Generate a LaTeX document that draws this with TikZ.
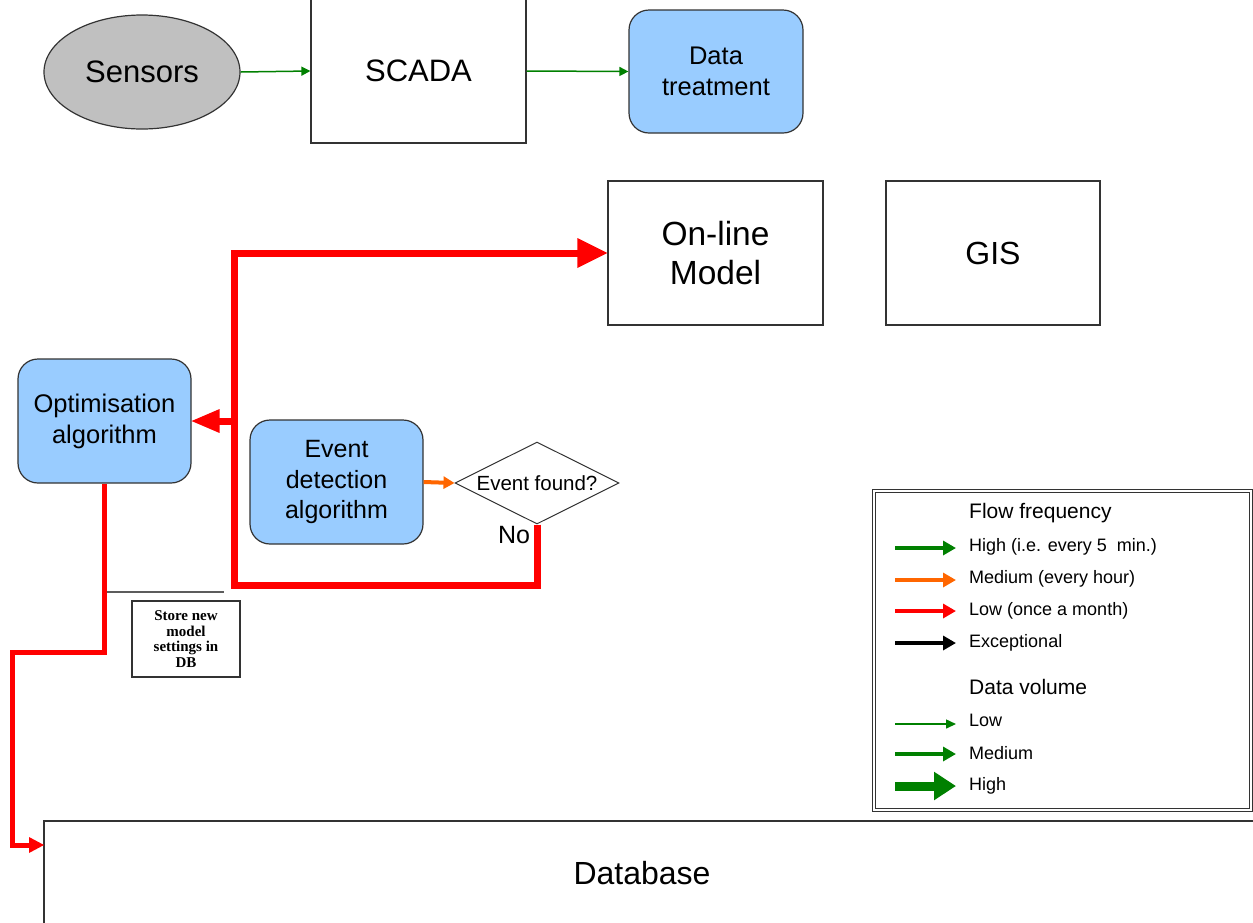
\documentclass[tikz,border=0pt]{standalone}
\usepackage{fontspec}
\setmainfont{Liberation Sans}
\newfontfamily\serifb{Liberation Serif}
\usetikzlibrary{arrows.meta,shapes.geometric,calc}
\definecolor{boxblue}{HTML}{99CCFF}
\definecolor{sgray}{HTML}{C0C0C0}
\definecolor{dgreen}{HTML}{008000}
\definecolor{orng}{HTML}{FF6600}
\definecolor{edge}{HTML}{333333}
\tikzset{
  plainbox/.style={draw=edge,line width=1.2pt,fill=white,align=center,inner sep=0pt},
  bluebox/.style={draw=edge,line width=1.2pt,fill=boxblue,rounded corners=20pt,align=center,inner sep=0pt},
  greenflow/.style={draw=dgreen,line width=1.5pt,-{Triangle[length=9pt,width=9pt]}},
  redflow/.style={draw=red,line width=7pt,line join=miter},
  legarrow/.style={line width=4pt,-{Triangle[length=13pt,width=14pt]}},
  legtext/.style={anchor=west,inner sep=0pt,font=\fontsize{18}{20}\selectfont},
  leghead/.style={anchor=west,inner sep=0pt,font=\fontsize{21}{24}\selectfont}
}
\begin{document}
\begin{tikzpicture}[x=1pt,y=-1pt]
\useasboundingbox (0,0) rectangle (1253,922);
\begin{scope}
\clip (0,0) rectangle (1253,922);
% nodes
\node[ellipse,draw=edge,line width=1.2pt,fill=sgray,minimum width=196pt,minimum height=114pt,inner sep=0pt,font=\fontsize{31}{34}\selectfont] (sens) at (142,72) {Sensors};
\node[plainbox,minimum width=215pt,minimum height=144pt,font=\fontsize{31}{34}\selectfont] (scada) at (418.5,71) {SCADA};
\node[bluebox,minimum width=174pt,minimum height=123pt,font=\fontsize{25.5}{31}\selectfont] (dt) at (716,71.5) {Data\\treatment};
\node[plainbox,minimum width=215pt,minimum height=144pt,font=\fontsize{33.5}{39}\selectfont] (olm) at (715.5,253) {On-line\\Model};
\node[plainbox,minimum width=214pt,minimum height=144pt,font=\fontsize{32}{36}\selectfont] (gis) at (993,253) {GIS};
\node[bluebox,minimum width=173pt,minimum height=124pt,font=\fontsize{25.5}{31}\selectfont] (opt) at (104.5,421) {Optimisation\\algorithm};
\node[bluebox,minimum width=173pt,minimum height=124pt,font=\fontsize{25}{30.5}\selectfont] (evd) at (336.5,482) {Event\\detection\\algorithm};
\node[diamond,draw=edge,line width=1pt,fill=white,minimum width=164pt,minimum height=82pt,aspect=2,inner sep=0pt,font=\fontsize{20.5}{24}\selectfont] (ef) at (537,483) {Event found?};
\node[inner sep=0pt,font=\fontsize{25}{28}\selectfont] (no) at (514,535) {No};
\node[plainbox,minimum width=108pt,minimum height=76pt,font=\serifb\bfseries\fontsize{15}{15.5}\selectfont] (store) at (186,639) {Store new\\model\\settings in\\DB};
\node[plainbox,minimum width=1230pt,minimum height=120pt] (db) at (659,881) {};
\node[inner sep=0pt,font=\fontsize{32}{36}\selectfont] (dbt) at (642,873) {Database};
% connectors top
\draw[greenflow] (sens.east) -- (scada.west);
\draw[greenflow] (scada.east) -- (dt.west);
% orange
\draw[draw=orng,line width=4pt,-{Triangle[length=11pt,width=12pt]}] (evd.east) -- (ef.west);
% red loop
\coordinate (j1) at (234,585);
\coordinate (j2) at (234,253);
\coordinate (j3) at (234,421);
\draw[redflow] (ef.south) |- (j1) -- (j2) -- ($(olm.west)+(-24,0)$);
\fill[red] (olm.west) -- ++(-30,-15) -- ++(0,30) -- cycle;
\draw[redflow] (j3) -- ($(opt.east)+(24,0)$);
\fill[red] (opt.east) -- ++(28,-12) -- ++(0,24) -- cycle;
% red to database
\coordinate (k1) at (104.5,652);
\coordinate (k2) at (12,652);
\coordinate (dbin) at (44,845);
\draw[draw=red,line width=5pt,line join=miter] (opt.south) -- (k1) -- (k2) |- ($(dbin)+(-12,0)$);
\fill[red] (dbin) -- ++(-15,-8) -- ++(0,16) -- cycle;
% thin line
\coordinate (t1) at (107,592);
\coordinate (t2) at (224,592);
\draw[draw=edge!80,line width=1.2pt] (t1) -- (t2);
\end{scope}
% legend
\draw[draw=edge,line width=1pt,double=white,double distance=2.5pt] (874,491) rectangle (1251,810);
\node[leghead] (lh1) at (969,513) {Flow frequency};
\node[legtext] (l1) at (969,547) {High (i.e. every 5 \ min.)};
\node[legtext] (l2) at (969,579) {Medium (every hour)};
\node[legtext] (l3) at (969,611) {Low (once a month)};
\node[legtext] (l4) at (969,643) {Exceptional};
\node[leghead] (lh2) at (969,687) {Data volume};
\node[legtext] (l5) at (969,720) {Low};
\node[legtext] (l6) at (969,753) {Medium};
\node[legtext] (l7) at (969,786) {High};
\draw[legarrow,draw=dgreen] (895,548) -- (956,548);
\draw[legarrow,draw=orng] (895,580) -- (956,580);
\draw[legarrow,draw=red] (895,611) -- (956,611);
\draw[legarrow,draw=black] (895,643) -- (956,643);
\draw[draw=dgreen,line width=1.5pt,-{Triangle[length=10pt,width=9pt]}] (895,724) -- (956,724);
\draw[legarrow,draw=dgreen] (895,754) -- (956,754);
\draw[draw=dgreen,line width=9pt,-{Triangle[length=22pt,width=27pt]}] (895,786) -- (956,786);
\end{tikzpicture}
\end{document}
